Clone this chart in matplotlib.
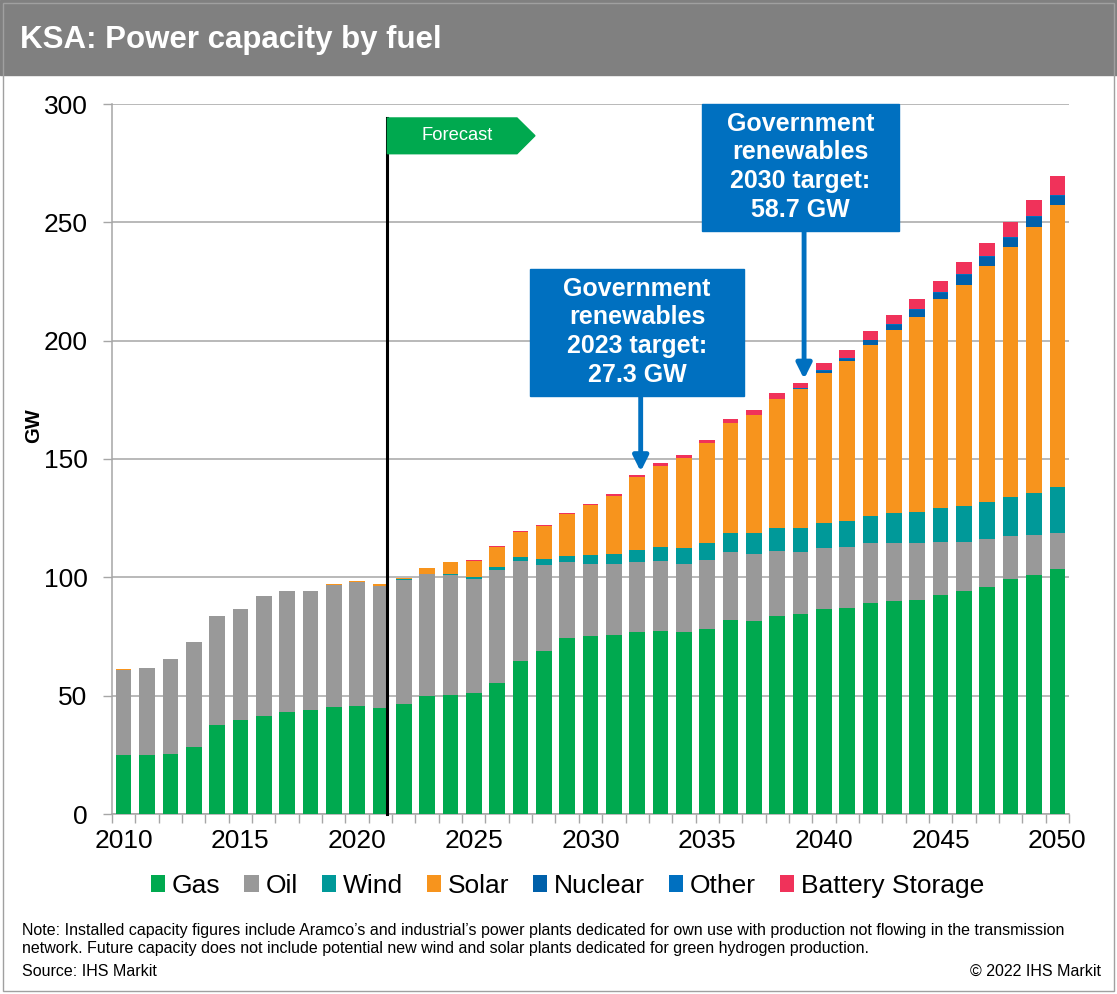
import numpy as np
import matplotlib
matplotlib.use("Agg")
import matplotlib.pyplot as plt
from matplotlib.patches import Rectangle, Polygon

plt.rcParams['font.family'] = ['Liberation Sans', 'DejaVu Sans']

# data (GW)
years = list(range(2010, 2051))
gas = [24.9, 25.0, 25.4, 28.4, 37.7, 39.8, 41.5, 43.2, 44.0, 45.3, 45.7, 44.9,
       46.6, 49.9, 50.3, 51.2, 55.5, 64.7, 69.0, 74.5, 75.4, 75.8, 76.7, 77.2,
       76.7, 78.2, 82.0, 81.5, 83.7, 84.5, 86.7, 87.1, 89.2, 89.9, 90.4, 92.6,
       94.2, 95.9, 99.3, 100.9, 103.4]
oil = [36.1, 36.9, 40.3, 44.1, 46.1, 46.7, 50.6, 50.9, 50.1, 51.5, 52.3, 51.6,
       52.4, 51.3, 50.7, 48.1, 47.5, 42.2, 36.4, 31.8, 30.3, 29.8, 29.6, 29.6,
       28.9, 29.1, 28.7, 28.3, 27.5, 26.2, 25.7, 25.7, 25.1, 24.7, 24.2, 22.5,
       20.9, 20.5, 18.0, 17.1, 15.5]
wind = [0, 0, 0, 0, 0, 0, 0, 0, 0, 0, 0, 0,
        0.2, 0.4, 0.5, 0.8, 1.4, 1.7, 2.4, 2.8, 3.7, 4.1, 5.3, 6.0,
        6.8, 7.3, 8.2, 9.1, 9.7, 10.2, 10.5, 11.0, 11.5, 12.5, 13.2, 14.1,
        15.0, 15.5, 16.5, 17.8, 19.2]
solar = [0.1, 0, 0, 0, 0, 0, 0, 0, 0, 0.5, 0.6, 0.5,
         0.5, 2.3, 4.8, 7.0, 8.4, 10.7, 14.1, 17.8, 21.2, 24.7, 30.8, 34.4,
         38.1, 42.3, 46.5, 49.7, 54.4, 58.7, 63.5, 67.7, 72.4, 77.5, 82.2, 88.2,
         93.6, 99.6, 105.7, 112.2, 119.2]
nuclear = [0] * 30 + [0.9, 0.9, 1.9, 2.0, 3.1, 2.8, 4.1, 3.8, 4.0, 4.2, 3.8]
other = [0] * 29 + [0.3] * 12
battery = [0] * 12 + [0.1, 0.2, 0.3, 0.3, 0.4, 0.4, 0.3, 0.3, 0.4, 0.9, 0.8, 1.1,
                      1.2, 1.3, 1.5, 2.3, 2.4, 2.4, 2.9, 3.3, 3.7, 4.0, 4.4, 4.9,
                      5.2, 5.7, 6.4, 6.9, 8.0]

series = [("Gas", gas, "#00A94F"),
          ("Oil", oil, "#999999"),
          ("Wind", wind, "#009999"),
          ("Solar", solar, "#F7941D"),
          ("Nuclear", nuclear, "#0060AA"),
          ("Other", other, "#0070C0"),
          ("Battery Storage", battery, "#F0325A")]

W, H = 1117, 994


def fx(px):
    return px / W


def fy(py):
    return 1 - py / H


def main():
    fig = plt.figure(figsize=(W / 100, H / 100), dpi=100)
    ax = fig.add_axes([fx(112), fy(814), fx(1069) - fx(112), fy(104) - fy(814)])

    x = np.arange(len(years))
    bottom = np.zeros(len(years))
    for name, vals, color in series:
        vals = np.array(vals, dtype=float)
        ax.bar(x, vals, width=0.67, bottom=bottom, color=color, label=name,
               edgecolor="none", zorder=3)
        bottom += vals

    ax.set_xlim(-0.5, len(years) - 0.5)
    ax.set_ylim(0, 300)
    ax.set_yticks(range(0, 301, 50))
    ax.set_xticks(x[::5])
    ax.set_xticklabels([str(y) for y in years[::5]])
    ax.set_xticks(np.arange(-0.5, len(years), 1), minor=True)
    ax.tick_params(axis="x", which="major", length=0, pad=11, labelsize=19)
    ax.tick_params(axis="x", which="minor", length=6.5, color="#A6A6A6", width=1)
    ax.tick_params(axis="y", length=6.5, color="#A6A6A6", width=1, pad=11, labelsize=19)
    ax.grid(axis="y", color="#A6A6A6", lw=1.1, zorder=0)
    for s in ["top", "right"]:
        ax.spines[s].set_visible(False)
    for s in ["left", "bottom"]:
        ax.spines[s].set_color("#A6A6A6")
        ax.spines[s].set_linewidth(1.1)

    # forecast marker
    ax.plot([11.3, 11.3], [0, 294.1], color="black", lw=2.2, zorder=4, clip_on=False)
    ax.add_patch(Polygon([(11.3, 294.1), (16.85, 294.1), (17.62, 286.6),
                          (16.85, 279.0), (11.3, 279.0)], closed=True,
                         color="#00A94F", zorder=4, clip_on=False))
    ax.text(14.3, 286.6, "Forecast", color="white", fontsize=13.2,
            ha="center", va="center", zorder=5)

    # target call-outs
    notes = [(2032, 9.17, 230.3, 176.6, "Government\nrenewables\n2023 target:\n27.3 GW"),
             (2039, 8.44, 300.0, 246.3, "Government\nrenewables\n2030 target:\n58.7 GW")]
    for yr, bw, top, bot, txt in notes:
        i = years.index(yr)
        tot = bottom[i]
        ax.add_patch(Rectangle((i - bw / 2, bot), bw, top - bot, color="#0070C0",
                               zorder=6, clip_on=False))
        ax.text(i, (top + bot) / 2 + 0.3, txt, color="white", fontsize=18,
                fontweight="bold", ha="center", va="center", linespacing=1.25,
                zorder=7)
        ax.annotate("", xy=(i + 0.15, tot + 1.5), xytext=(i + 0.15, bot),
                    arrowprops=dict(arrowstyle="-|>,head_length=0.9,head_width=0.45",
                                    color="#0070C0", lw=3.5, shrinkA=0, shrinkB=0),
                    zorder=6)

    # header bar, frame, labels
    fig.patches.append(Rectangle((0, fy(75)), 1, 75 / H, transform=fig.transFigure,
                                 color="#808080", zorder=0))
    fig.patches.append(Rectangle((fx(3), fy(991)), fx(1111), 988 / H,
                                 transform=fig.transFigure, fill=False,
                                 edgecolor="#A0A0A0", lw=1))
    fig.text(fx(20), fy(40), "KSA: Power capacity by fuel", color="white",
             fontsize=22.5, fontweight="bold", va="center")
    fig.text(fx(34), fy(426), "GW", rotation=90, fontsize=14.5, fontweight="bold",
             ha="center", va="center")

    fig.legend(loc="center", bbox_to_anchor=(0.508, fy(886)), ncol=7, frameon=False,
               fontsize=19, handlelength=0.55, handleheight=0.6, handletextpad=0.25,
               columnspacing=0.9)

    fig.text(fx(22), fy(930), "Note: Installed capacity figures include Aramco\u2019s and "
             "industrial\u2019s power plants dedicated for own use with production not "
             "flowing in the transmission", fontsize=11.5, va="center")
    fig.text(fx(22), fy(949), "network. Future capacity does not include potential new "
             "wind and solar plants dedicated for green hydrogen production.",
             fontsize=11.5, va="center")
    fig.text(fx(22), fy(971), "Source: IHS Markit", fontsize=11.5, va="center")
    fig.text(fx(1101), fy(971), "\u00a9 2022 IHS Markit", fontsize=11.5,
             va="center", ha="right")

    fig.savefig("out.png", dpi=100)


if __name__ == "__main__":
    main()
